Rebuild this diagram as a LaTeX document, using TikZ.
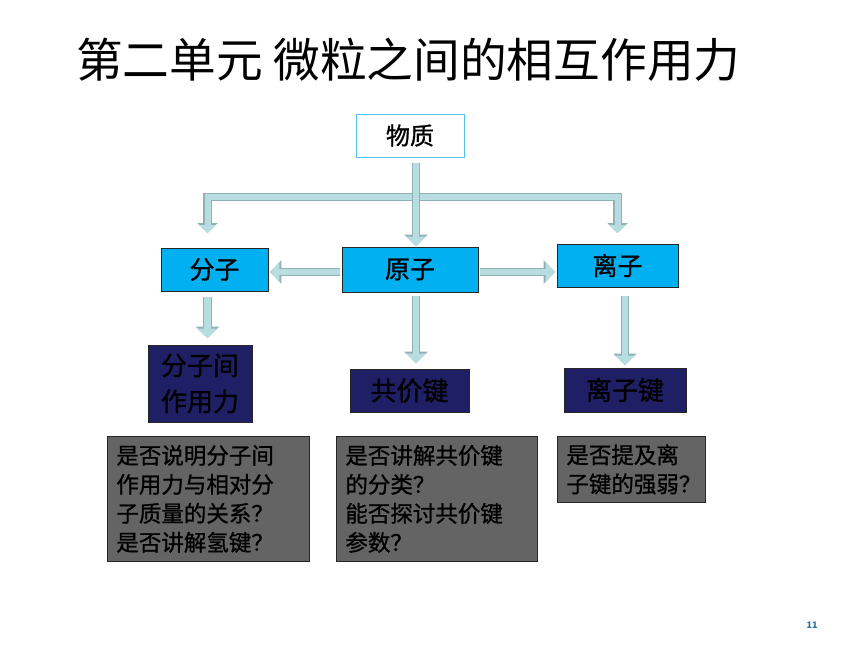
\documentclass[tikz,border=0pt]{standalone}
\usepackage{fontspec}
\setmainfont{Noto Sans CJK SC}
\newfontfamily\heifont[FakeBold=1]{Noto Sans CJK SC}
\usepackage{tikz}
\usetikzlibrary{arrows.meta,positioning}
\definecolor{cyanbox}{HTML}{00B0F0}
\definecolor{navybox}{HTML}{1F1F66}
\definecolor{graybox}{HTML}{646464}
\definecolor{arrfill}{HTML}{B7DDE0}
\definecolor{arredge}{HTML}{90B2B5}
\definecolor{skyline}{HTML}{55C2EE}
\definecolor{pagenum}{HTML}{2E6F9E}
\begin{document}
\begin{tikzpicture}[x=1pt, y=-1pt,
	box/.style={rectangle, draw=black!85, line width=0.8pt, inner sep=0pt, align=center},
	topbox/.style={box, fill=cyanbox, font=\heifont\fontsize{25}{28}\selectfont},
	bondbox/.style={box, fill=navybox, font=\heifont\fontsize{26}{36}\selectfont},
	askbox/.style={box, fill=graybox, anchor=north west, inner xsep=9pt, align=left,
		font=\heifont\fontsize{22.5}{29}\selectfont},
	arr/.style={draw=arrfill, line width=6.4pt, shorten >=1.4pt, shorten <=1.2pt,
		-{Triangle[width=19pt,length=9.5pt]},
		preaction={draw=arredge, line width=8.6pt, -{Triangle[width=22.5pt,length=11.5pt]}}},
	arrtwo/.style={draw=arrfill, line width=6pt, shorten >=1.4pt, shorten <=1.4pt,
		{Triangle[width=16pt,length=8pt]}-{Triangle[width=16pt,length=8pt]},
		preaction={draw=arredge, line width=8.2pt,
			{Triangle[width=19.5pt,length=10pt]}-{Triangle[width=19.5pt,length=10pt]}}}]
	\useasboundingbox (0,0) rectangle (860,645);
	% title
	\node[anchor=west, inner sep=0pt, font=\fontsize{46.7}{50}\selectfont] (title) at (76,60) {第二单元 微粒之间的相互作用力};
	% top level
	\node[box, draw=skyline, fill=white, minimum width=108pt, minimum height=43pt,
		font=\heifont\fontsize{24}{28}\selectfont] (wz) at (410,135.5) {物质};
	\node[topbox, minimum width=107pt, minimum height=43pt] (fz) at (214.5,269.5) {分子};
	\node[topbox, minimum width=136pt, minimum height=45pt] (yz) at (410,269.5) {原子};
	\node[topbox, minimum width=121pt, minimum height=43pt] (lz) at (617.5,265.5) {离子};
	% bonds
	\node[bondbox, minimum width=104pt, minimum height=77pt] (fzj) at (200,383.5) {分子间\\作用力};
	\node[bondbox, minimum width=119pt, minimum height=43pt] (gjj) at (409.5,390.5) {共价键};
	\node[bondbox, minimum width=122pt, minimum height=44pt] (lzj) at (625,390) {离子键};
	% questions
	\node[askbox, text width=184pt, minimum height=125pt] (q1) at (107,436)
		{是否说明分子间\\作用力与相对分\\子质量的关系？\\是否讲解氢键？};
	\node[askbox, text width=183pt, minimum height=125pt] (q2) at (336,436)
		{是否讲解共价键\\的分类？\\能否探讨共价键\\参数？};
	\node[askbox, text width=130pt, minimum height=66pt] (q3) at (557,436)
		{是否提及离\\子键的强弱？};
	% page number
	\node[font=\fontsize{9}{10}\selectfont\bfseries, text=pagenum] (page) at (812,625) {11};
	% connectors
	\coordinate (bl) at ([xshift=-7pt, yshift=13pt]fz.north);
	\coordinate (br) at ([yshift=9pt]lz.north);
	\draw[arrtwo] (bl) -- (bl |- 0,197) -- (br |- 0,197) -- (br);
	\draw[arr] ([xshift=6pt, yshift=-4pt]wz.south) -- ([xshift=6pt, yshift=-1pt]yz.north);
	\draw[arr] ([yshift=-2.5pt]yz.west) -- ([yshift=-2.5pt]yz.west -| fz.east);
	\draw[arr] ([yshift=-2.5pt]yz.east) -- ([yshift=-2.5pt]yz.east -| lz.west);
	\draw[arr] ([xshift=-7pt, yshift=-4pt]fz.south) -- ([xshift=-7pt, yshift=5pt]fz.south |- fzj.north);
	\draw[arr] ([xshift=6pt, yshift=-2pt]yz.south) -- ([xshift=6pt, yshift=4pt]yz.south |- gjj.north);
	\draw[arr] ([xshift=7.5pt, yshift=-7pt]lz.south) -- ([xshift=7.5pt, yshift=1pt]lz.south |- lzj.north);
\end{tikzpicture}
\end{document}
